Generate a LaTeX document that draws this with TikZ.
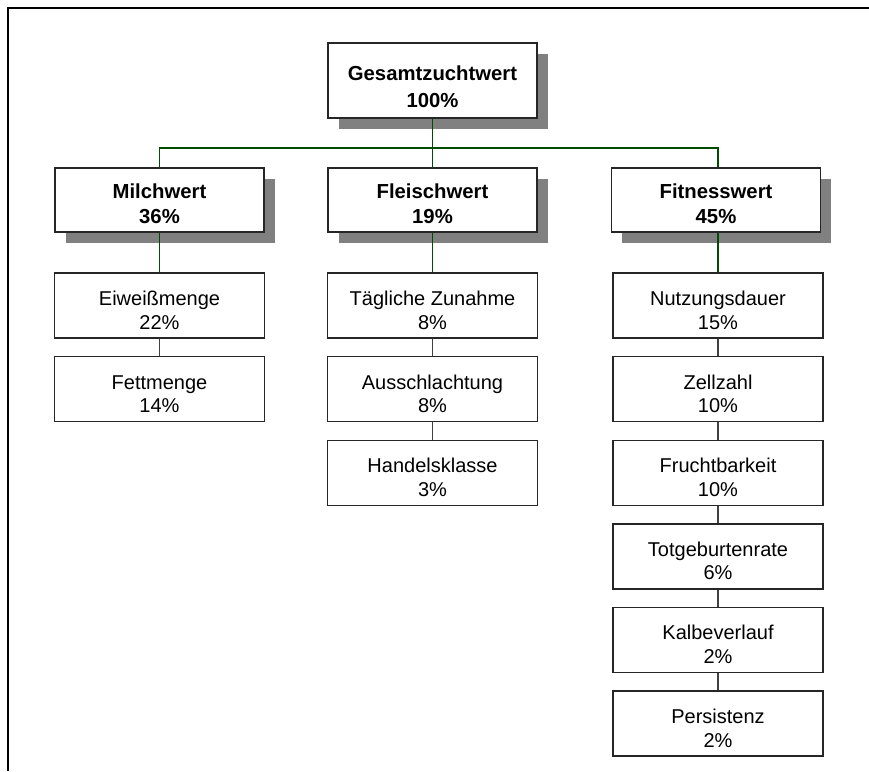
\documentclass[tikz,border=0pt]{standalone}
\usepackage{fontspec}
\setmainfont{Liberation Sans}
\usetikzlibrary{shadows}
\tikzset{every picture/.style={
  x=1pt,y=-1pt                  % pixel grid, y runs down.
  },
  kasten/.style={draw=black!85,line width=1.4pt,fill=white,inner sep=0pt},
  schatten/.style={drop shadow={shadow xshift=10.5pt,shadow yshift=-11pt,
    fill=black!50,opacity=1}},
  gesamt/.style={kasten,schatten,minimum width=209pt,minimum height=75pt,
    font=\bfseries\fontsize{20.3}{27.7}\selectfont},
  wert/.style={kasten,schatten,minimum width=209pt,minimum height=64pt,
    font=\bfseries\fontsize{20.3}{25}\selectfont},
  merkmal/.style={kasten,minimum width=210pt,minimum height=65pt,
    font=\fontsize{20}{23.6}\selectfont},
  ast/.style={draw=green!30!black,line width=1.2pt},
  kette/.style={draw=black!75,line width=1.2pt}
}
% two centred lines, set a little below the middle of the box
\newcommand{\eintrag}[3][7pt]{%
  \raisebox{-#1}[\height][\depth]{\begin{tabular}{@{}c@{}}#2\\#3\end{tabular}}}

\begin{document}
\begin{tikzpicture}
  \useasboundingbox (0,0) rectangle (869,771);
  \draw[line width=2pt] (8,771) -- (8,8) -- (869,8);

  % top and weights
  \node[gesamt] (gzw) at (432.5,80.5) {\eintrag[8pt]{Gesamtzuchtwert}{100\%}};
  \node[wert] (milch) at (159.5,200) {\eintrag[5.5pt]{Milchwert}{36\%}};
  \node[wert] (fleisch) at (432.5,200) {\eintrag[5.5pt]{Fleischwert}{19\%}};
  \node[wert] (fitness) at (716,200) {\eintrag[5.5pt]{Fitnesswert}{45\%}};

  % traits
  \node[merkmal] (eiweiss) at (159.5,305.5) {\eintrag{Eiweißmenge}{22\%}};
  \node[merkmal] (fett) at (159.5,389.1) {\eintrag{Fettmenge}{14\%}};

  \node[merkmal] (zunahme) at (432.5,305.5) {\eintrag{Tägliche Zunahme}{8\%}};
  \node[merkmal] (schlacht) at (432.5,389.1) {\eintrag{Ausschlachtung}{8\%}};
  \node[merkmal] (handel) at (432.5,472.7) {\eintrag{Handelsklasse}{3\%}};

  \node[merkmal] (dauer) at (718,305.5) {\eintrag{Nutzungsdauer}{15\%}};
  \node[merkmal] (zellen) at (718,389.1) {\eintrag{Zellzahl}{10\%}};
  \node[merkmal] (frucht) at (718,472.7) {\eintrag{Fruchtbarkeit}{10\%}};
  \node[merkmal] (totgeb) at (718,556.3) {\eintrag{Totgeburtenrate}{6\%}};
  \node[merkmal] (kalb) at (718,639.9) {\eintrag{Kalbeverlauf}{2\%}};
  \node[merkmal] (persist) at (718,723.5) {\eintrag{Persistenz}{2\%}};

  % connectors
  \coordinate (bus) at (432.5,148);
  \draw[ast] (gzw.south) -- (bus);
  \draw[ast] (bus) -| (milch.north);
  \draw[ast] (bus) -| ([xshift=2pt]fitness.north);
  \draw[ast] (bus) -- (fleisch.north);
  \draw[ast] (milch.south) -- (eiweiss.north);
  \draw[ast] (fleisch.south) -- (zunahme.north);
  \draw[ast] ([xshift=2pt]fitness.south) -- (dauer.north);
  \draw[kette] (eiweiss) -- (fett);
  \draw[kette] (zunahme) -- (schlacht);
  \draw[kette] (schlacht) -- (handel);
  \foreach \a/\b in {dauer/zellen,zellen/frucht,frucht/totgeb,totgeb/kalb,kalb/persist}
    \draw[kette] (\a) -- (\b);
\end{tikzpicture}
\end{document}
